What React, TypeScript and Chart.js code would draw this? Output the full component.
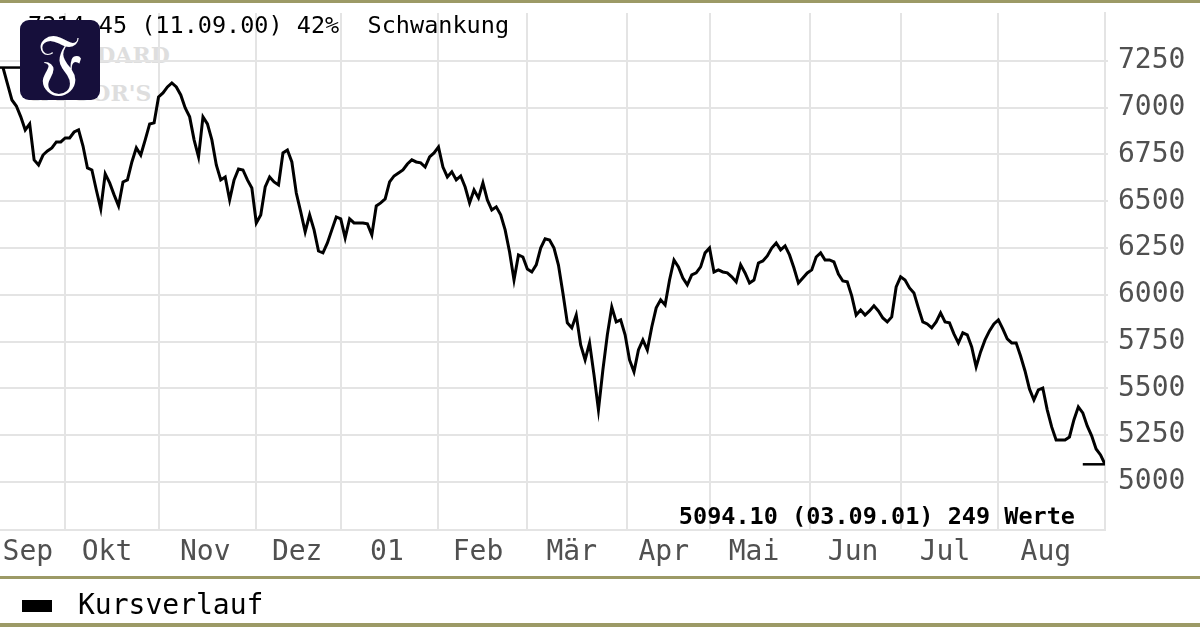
import React, { useEffect, useRef } from "react";
import { Chart, registerables } from "chart.js";

Chart.register(...registerables);

// ---- data ----
const closes: number[] = [
  7214.45, 7127, 7041, 7009, 6951, 6881, 6913, 6721, 6694, 6747,
  6769, 6785, 6817, 6817, 6838, 6838, 6870, 6881, 6795, 6678,
  6667, 6560, 6459, 6646, 6598, 6534, 6475, 6603, 6614, 6710,
  6785, 6747, 6828, 6913, 6919, 7057, 7079, 7111, 7132, 7111,
  7068, 6999, 6951, 6828, 6737, 6951, 6913, 6828, 6694, 6614,
  6630, 6507, 6614, 6672, 6667, 6614, 6571, 6384, 6427, 6576,
  6630, 6603, 6587, 6758, 6774, 6710, 6544, 6443, 6336, 6427,
  6347, 6234, 6224, 6277, 6347, 6416, 6406, 6304, 6406, 6384,
  6384, 6384, 6379, 6320, 6475, 6491, 6512, 6603, 6635, 6651,
  6667, 6699, 6721, 6710, 6705, 6683, 6737, 6758, 6790, 6683,
  6630, 6657, 6614, 6635, 6576, 6491, 6560, 6518, 6598, 6507,
  6453, 6470, 6427, 6347, 6229, 6079, 6213, 6202, 6138, 6122,
  6160, 6250, 6299, 6293, 6250, 6159, 6010, 5850, 5823, 5892,
  5732, 5652, 5743, 5572, 5385, 5599, 5786, 5935, 5855, 5866,
  5786, 5652, 5588, 5705, 5759, 5705, 5828, 5930, 5973, 5946,
  6079, 6186, 6149, 6090, 6053, 6106, 6117, 6149, 6224, 6250,
  6122, 6133, 6122, 6117, 6096, 6069, 6160, 6117, 6063, 6079,
  6170, 6181, 6208, 6250, 6277, 6240, 6261, 6213, 6143, 6063,
  6090, 6117, 6133, 6202, 6224, 6186, 6186, 6176, 6111, 6074,
  6069, 5994, 5892, 5919, 5892, 5914, 5941, 5914, 5876, 5855,
  5882, 6042, 6096, 6079, 6037, 6010, 5930, 5855, 5844, 5823,
  5855, 5903, 5855, 5850, 5791, 5743, 5797, 5786, 5721, 5615,
  5695, 5759, 5807, 5844, 5866, 5818, 5764, 5743, 5743, 5673,
  5593, 5497, 5438, 5492, 5502, 5385, 5294, 5224, 5224, 5224,
  5240, 5331, 5401, 5369, 5299, 5246, 5176, 5144, 5094.1,
];

const monthNames: string[] = ["Sep", "Okt", "Nov", "Dez", "01", "Feb", "Mär", "Apr", "Mai", "Jun", "Jul", "Aug"];
// trading-day index where each new month starts (grid lines)
const monthStarts: number[] = [14, 35, 57, 76, 98, 118, 140.5, 159, 181.5, 202, 224];
// trading-day index where each month label is centred
const monthLabelPos: number[] = [5.6, 23.4, 45.5, 66.2, 86.4, 106.9, 128, 148.7, 169, 191.3, 212, 234.7];
const yTickValues: number[] = [5000, 5250, 5500, 5750, 6000, 6250, 6500, 6750, 7000, 7250];

const maxDate = "11.09.00";
const minDate = "03.09.01";
const swingText = "42%";
const seriesName = "Kursverlauf";

const X_MIN = -0.68;
const X_MAX = 248;
const Y_MIN = 4743;
const Y_MAX = 7506;
const MARKER_LEN = 5;

const GRID = "#e4e4e4";
const OLIVE = "#9c9a66";
const LABEL = "#505050";
const MONO = "'DejaVu Sans Mono', 'Liberation Mono', monospace";

const fmt = (v: number) => v.toFixed(2);

export default function App() {
  const ref = useRef<HTMLCanvasElement | null>(null);

  const maxV = Math.max(...closes);
  const minV = Math.min(...closes);
  const maxI = closes.indexOf(maxV);
  const minI = closes.lastIndexOf(minV);

  useEffect(() => {
    document.body.style.margin = "0";
    const canvas = ref.current;
    if (!canvas) return;

    const boundarySet = new Set(monthStarts);
    const labelMap = new Map<number, string>();
    monthLabelPos.forEach((p, i) => labelMap.set(p, monthNames[i]));

    const chart = new Chart(canvas, {
      type: "line",
      data: {
        datasets: [
          {
            label: seriesName,
            data: closes.map((v, i) => ({ x: i, y: v })),
            borderColor: "#000",
            borderWidth: 3,
            pointRadius: 0,
            tension: 0,
            fill: false,
          },
          {
            label: "max",
            data: [
              { x: X_MIN, y: maxV },
              { x: maxI + MARKER_LEN - 0.7, y: maxV },
            ],
            borderColor: "#000",
            borderWidth: 2.5,
            pointRadius: 0,
          },
          {
            label: "min",
            data: [
              { x: minI - MARKER_LEN, y: minV },
              { x: X_MAX, y: minV },
            ],
            borderColor: "#000",
            borderWidth: 2.5,
            pointRadius: 0,
          },
        ],
      },
      options: {
        animation: false,
        responsive: false,
        devicePixelRatio: 1,
        layout: { padding: { top: 13, left: 0, right: 0, bottom: 0 } },
        plugins: { legend: { display: false }, tooltip: { enabled: false } },
        scales: {
          x: {
            type: "linear",
            min: X_MIN,
            max: X_MAX,
            afterFit: (s: any) => {
              s.height = 97;
              s.paddingLeft = 0;
              s.paddingRight = 0;
            },
            afterBuildTicks: (s: any) => {
              const vals = [X_MIN, ...monthStarts, ...monthLabelPos, X_MAX].sort((a, b) => a - b);
              s.ticks = vals.map((v) => ({ value: v }));
            },
            grid: {
              drawTicks: false,
              lineWidth: 2,
              color: (c: any) =>
                c.tick && boundarySet.has(c.tick.value) ? GRID : "rgba(0,0,0,0)",
            },
            border: { display: true, color: GRID, width: 2 },
            ticks: {
              autoSkip: false,
              maxRotation: 0,
              minRotation: 0,
              padding: 6,
              color: LABEL,
              font: { family: MONO, size: 28 },
              callback: (value: any) => {
                const v = Number(value);
                if (v === X_MIN || v === X_MAX) return null as any;
                return labelMap.get(v) ?? "";
              },
            },
          },
          y: {
            type: "linear",
            position: "right",
            min: Y_MIN,
            max: Y_MAX,
            afterFit: (s: any) => {
              s.width = 95;
              s.paddingTop = 0;
              s.paddingBottom = 0;
            },
            afterBuildTicks: (s: any) => {
              s.ticks = [Y_MIN, ...yTickValues, Y_MAX].map((v) => ({ value: v }));
            },
            grid: {
              lineWidth: 2,
              drawTicks: true,
              tickLength: 3,
              color: (c: any) =>
                c.tick && (c.tick.value === Y_MIN || c.tick.value === Y_MAX) ? "rgba(0,0,0,0)" : GRID,
            },
            border: { display: true, color: GRID, width: 2 },
            ticks: {
              padding: 10,
              color: LABEL,
              font: { family: MONO, size: 28 },
              callback: (value: any) => {
                const v = Number(value);
                if (v === Y_MIN || v === Y_MAX) return null as any;
                return String(v);
              },
            },
          },
        },
      },
    });
    return () => chart.destroy();
  }, []);

  const headerText = `${fmt(maxV)} (${maxDate}) ${swingText}  Schwankung`;
  const footText = `${fmt(minV)} (${minDate}) ${closes.length} Werte`;

  return (
    <div style={{ position: "relative", width: 1200, height: 627, background: "#fff", overflow: "hidden" }}>
      {/* watermark */}
      <div
        style={{
          position: "absolute",
          left: 28,
          top: 36,
          color: "#dedede",
          fontFamily: "'DejaVu Serif', serif",
          fontWeight: "bold",
          fontSize: 22,
          lineHeight: "38px",
          whiteSpace: "pre",
        }}
      >
        {"STANDARD\n& POOR'S"}
      </div>
      <canvas ref={ref} width={1200} height={627} style={{ position: "absolute", left: 0, top: 0 }} />
      {/* olive rules */}
      <div style={{ position: "absolute", left: 0, top: 0, width: 1200, height: 3, background: OLIVE }} />
      <div style={{ position: "absolute", left: 0, top: 576, width: 1200, height: 3, background: OLIVE }} />
      <div style={{ position: "absolute", left: 0, top: 623, width: 1200, height: 4, background: OLIVE }} />
      {/* header */}
      <div
        style={{
          position: "absolute",
          left: 28,
          top: 12,
          fontFamily: MONO,
          fontSize: 23.5,
          lineHeight: "26px",
          color: "#000",
          whiteSpace: "pre",
        }}
      >
        {headerText}
      </div>
      {/* logo */}
      <div
        style={{
          position: "absolute",
          left: 20,
          top: 20,
          width: 80,
          height: 80,
          borderRadius: 9,
          background: "#160f3b",
          color: "#fff",
          display: "flex",
          alignItems: "center",
          justifyContent: "center",
          fontFamily: "'DejaVu Serif', serif",
          fontSize: 72,
          lineHeight: 1,
        }}
      >
        {"\u{1D509}"}
      </div>
      {/* footer annotation */}
      <div
        style={{
          position: "absolute",
          right: 125,
          top: 503,
          fontFamily: MONO,
          fontWeight: "bold",
          fontSize: 23.5,
          lineHeight: "26px",
          color: "#000",
          whiteSpace: "pre",
        }}
      >
        {footText}
      </div>
      {/* legend */}
      <div style={{ position: "absolute", left: 22, top: 600, width: 30, height: 12, background: "#000" }} />
      <div
        style={{
          position: "absolute",
          left: 78,
          top: 588,
          fontFamily: MONO,
          fontSize: 28,
          lineHeight: "34px",
          color: "#000",
          whiteSpace: "pre",
        }}
      >
        {seriesName}
      </div>
    </div>
  );
}
